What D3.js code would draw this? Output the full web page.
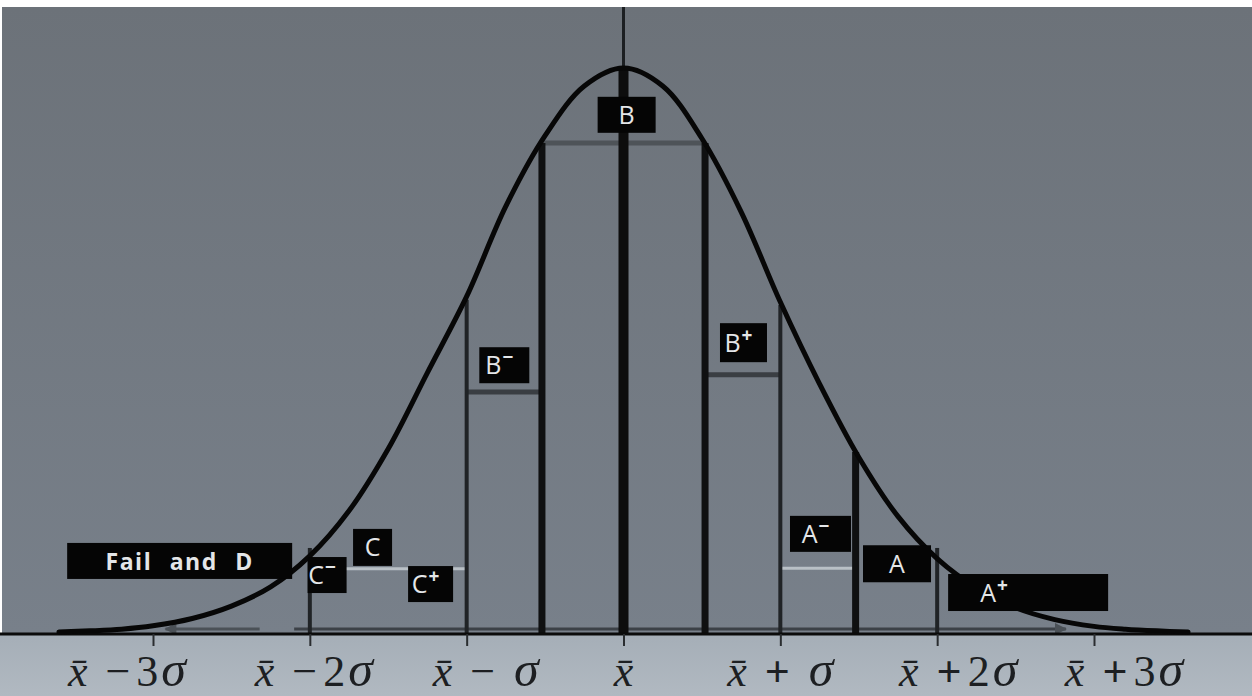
<!DOCTYPE html>
<html><head><meta charset="utf-8">
<script src="https://cdn.jsdelivr.net/npm/d3@7"></script>
<style>html,body{margin:0;padding:0;background:#fff;overflow:hidden}svg{display:block}</style>
</head><body>
<svg id="chart" width="1252" height="696"></svg>
<script>
// ---------------- data ----------------
const sigmaTicks = [-3, -2, -1, 0, 1, 2, 3];
const tickLabels = ["x̄ −3σ", "x̄ −2σ", "x̄ − σ", "x̄", "x̄ + σ", "x̄ +2σ", "x̄ +3σ"];

// bell curve (x in σ units, height relative to peak)
const curveZ = [-3.6, -3.4, -3.2, -3.0, -2.75, -2.5, -2.25, -2.0, -1.75, -1.5, -1.25, -1.0, -0.75, -0.5, -0.25, 0,
                 0.25, 0.5, 0.75, 1.0, 1.25, 1.5, 1.75, 2.0, 2.25, 2.5, 2.75, 3.0, 3.2, 3.4, 3.6];
const curveH = [0, 0.002, 0.005, 0.011, 0.024, 0.046, 0.08, 0.135, 0.215, 0.325, 0.46, 0.595, 0.755, 0.88, 0.968, 1.0,
                0.968, 0.875, 0.745, 0.585, 0.44, 0.31, 0.205, 0.13, 0.078, 0.043, 0.022, 0.01, 0.005, 0.002, 0];

// grade boundaries (σ units) and where they meet the curve
const boundaryZ   = [-2, -1, -0.52, 0, 0.52, 1, 1.48, 2];
const boundaryTop = [0.149, 0.589, 0.867, 1.0, 0.867, 0.58, 0.319, 0.149];

// horizontal shelves between boundaries
const shelfFrom = [-0.52, -1, 0.52, -2, 1];
const shelfTo   = [0.52, -0.52, 1, -1, 1.48];
const shelfH    = [0.867, 0.4255, 0.456, 0.112, 0.113];

// grade labels and their anchors (σ units, relative height)
const gradeLabels = ["Fail and D", "C−", "C", "C+", "B−", "B", "B+", "A−", "A", "A+"];
const gradeZ      = [-2.83, -1.89, -1.60, -1.23, -0.76, 0.02, 0.765, 1.256, 1.744, 2.58];
const gradeH      = [0.126, 0.101, 0.150, 0.085, 0.473, 0.917, 0.513, 0.174, 0.121, 0.070];

// ---------------- drawing ----------------
const W = 1252, H = 696;
const svg = d3.select("#chart");
const x = d3.scaleLinear().domain([-3, 3]).range([153, 1094]);
const y = d3.scaleLinear().domain([0, 1]).range([632, 68]);
const axisY = 634;

const defs = svg.append("defs");
const g1 = defs.append("linearGradient").attr("id", "bg").attr("x1", 0).attr("y1", 0).attr("x2", 0).attr("y2", 1);
g1.append("stop").attr("offset", "0%").attr("stop-color", "#6c7279");
g1.append("stop").attr("offset", "100%").attr("stop-color", "#78808a");
const g2 = defs.append("linearGradient").attr("id", "band").attr("x1", 0).attr("y1", 0).attr("x2", 0).attr("y2", 1);
g2.append("stop").attr("offset", "0%").attr("stop-color", "#a5aeb7");
g2.append("stop").attr("offset", "100%").attr("stop-color", "#b1b9c1");
defs.append("marker").attr("id", "arr").attr("viewBox", "0 0 10 10")
  .attr("refX", 9).attr("refY", 5).attr("markerWidth", 5).attr("markerHeight", 4)
  .attr("orient", "auto").attr("markerUnits", "strokeWidth")
  .append("path").attr("d", "M0,0 L10,5 L0,10 z").attr("fill", "#4b5157");

svg.append("rect").attr("width", W).attr("height", H).attr("fill", "#ffffff");
svg.append("rect").attr("x", 2).attr("y", 7).attr("width", W - 2).attr("height", axisY - 7).attr("fill", "url(#bg)");
svg.append("rect").attr("x", 0).attr("y", axisY).attr("width", W).attr("height", H - axisY).attr("fill", "url(#band)");

// mean axis (thin line up to the top)
svg.append("line").attr("x1", x(0)).attr("x2", x(0)).attr("y1", 7).attr("y2", axisY)
  .attr("stroke", "#1c1f22").attr("stroke-width", 3);

// base double line + arrows
svg.append("line").attr("x1", x(-2.1)).attr("x2", x(2.82)).attr("y1", axisY - 5).attr("y2", axisY - 5)
  .attr("stroke", "#3c4147").attr("stroke-width", 3).attr("marker-end", "url(#arr)");
svg.append("line").attr("x1", x(-2.32)).attr("x2", x(-2.92)).attr("y1", axisY - 5).attr("y2", axisY - 5)
  .attr("stroke", "#4b5157").attr("stroke-width", 3).attr("marker-end", "url(#arr)");

// shelves
shelfH.forEach((h, i) => {
  const light = h < 0.2;
  svg.append("line").attr("x1", x(shelfFrom[i])).attr("x2", x(shelfTo[i]))
    .attr("y1", y(h)).attr("y2", y(h))
    .attr("stroke", light ? "#b9c0c6" : (i === 0 ? "#4e5358" : "#3a3e43"))
    .attr("stroke-width", light ? 3 : 5);
});

// boundaries
boundaryZ.forEach((z, i) => {
  const w = z === 0 ? 10 : (Number.isInteger(z) ? 4 : 7);
  svg.append("line").attr("x1", x(z)).attr("x2", x(z))
    .attr("y1", y(boundaryTop[i])).attr("y2", axisY)
    .attr("stroke", z === 0 ? "#0d0d0d" : (Number.isInteger(z) ? "#202326" : "#0f1011"))
    .attr("stroke-width", w);
});

// axis line and ticks
svg.append("line").attr("x1", 0).attr("x2", W).attr("y1", axisY).attr("y2", axisY)
  .attr("stroke", "#0b0b0b").attr("stroke-width", 3);
const axis = d3.axisBottom(x).tickValues(sigmaTicks).tickSize(12).tickFormat("");
const ag = svg.append("g").attr("transform", `translate(0,${axisY})`).call(axis);
ag.select(".domain").remove();
ag.selectAll(".tick line").attr("stroke", "#2a2d30").attr("stroke-width", 2);

// bell curve
const pts = curveZ.map((z, i) => [x(z), y(curveH[i])]);
svg.append("path").attr("d", d3.line().curve(d3.curveCatmullRom.alpha(0.5))(pts))
  .attr("fill", "none").attr("stroke", "#070707").attr("stroke-width", 5)
  .attr("stroke-linecap", "round");

// tick labels
const labelDx = [-26, 4, 19, 0, 0, 21, 30];
tickLabels.forEach((lab, i) => {
  const t = svg.append("text").attr("x", x(sigmaTicks[i]) + labelDx[i]).attr("y", 686)
    .attr("text-anchor", "middle").attr("font-family", "'Liberation Serif', 'DejaVu Serif', serif")
    .attr("font-size", 44).attr("fill", "#1d1f22");
  const chars = Array.from(lab.normalize("NFD"));
  let pendingDx = 0, afterOp = false;
  const add = (txt, opts = {}) => {
    const s = t.append("tspan").text(txt);
    if (pendingDx) s.attr("dx", pendingDx);
    pendingDx = 0;
    if (opts.italic) s.attr("font-style", "italic");
    if (opts.bold) s.attr("font-weight", "bold");
    if (opts.size) s.attr("font-size", opts.size);
    return s;
  };
  for (let k = 0; k < chars.length; k++) {
    const c = chars[k];
    if (c === "x") {
      if (chars[k + 1] === "\u0304") k++;
      add("x\u0304", { italic: true });
      afterOp = false;
    } else if (c === "σ") {
      pendingDx += 3;
      add("σ", { italic: true, size: 50 });
    } else if (c === " ") {
      pendingDx += afterOp ? 10 : 18;
    } else if (c === "+" || c === "−") {
      add(c, { bold: c === "+" });
      pendingDx += 6;
      afterOp = true;
    } else {
      add(c);
    }
  }
});

// grade label boxes
const boxSize = { "Fail and D": [225, 36], "C−": [39, 36], "C": [39, 37], "C+": [45, 36], "B−": [50, 36],
  "B": [58, 36], "B+": [47, 39], "A−": [61, 36], "A": [68, 37], "A+": [160, 37] };
gradeLabels.forEach((lab, i) => {
  const cx = x(gradeZ[i]), cy = y(gradeH[i]);
  const [bw, bh] = boxSize[lab];
  svg.append("rect").attr("x", cx - bw / 2).attr("y", cy - bh / 2).attr("width", bw).attr("height", bh)
    .attr("fill", "#050505");
  const base = lab.length > 1 && (lab.endsWith("+") || lab.endsWith("−")) ? lab.slice(0, -1) : lab;
  const sup = base === lab ? "" : lab.slice(-1);
  const isFail = lab === "Fail and D";
  const tx = lab === "A+" ? cx - bw / 2 + 32 : cx - (sup ? 5 : 0);
  const t = svg.append("text").attr("x", tx).attr("y", cy + 9)
    .attr("text-anchor", lab === "A+" ? "start" : "middle")
    .attr("font-family", "'Open Sans', 'Noto Sans', sans-serif")
    .attr("font-size", isFail ? 23 : 25)
    .attr("font-weight", isFail ? "bold" : "normal")
    .attr("letter-spacing", isFail ? 1.5 : 0)
    .attr("word-spacing", isFail ? 10 : 0)
    .attr("fill", "#e4e6e8");
  t.append("tspan").text(base);
  if (sup) {
    t.append("tspan").attr("dy", -10).attr("dx", 1).attr("font-size", 19).attr("font-weight", "bold").text(sup);
  }
});
</script>
</body></html>
